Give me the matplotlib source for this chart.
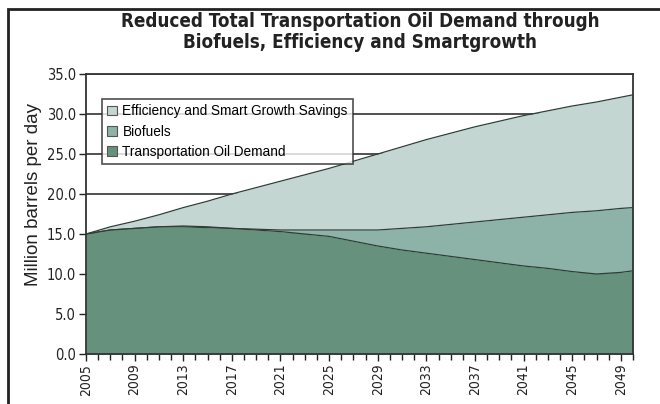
import matplotlib.pyplot as plt
import numpy as np
from matplotlib.patches import Rectangle, Patch

years = [2005, 2007, 2009, 2011, 2013, 2015, 2017, 2019, 2021, 2023, 2025, 2027,
         2029, 2031, 2033, 2035, 2037, 2039, 2041, 2043, 2045, 2047, 2049, 2050]
oil_demand = [15.0, 15.5, 15.7, 15.9, 15.9, 15.8, 15.7, 15.5, 15.3, 15.0, 14.7, 14.1,
              13.5, 13.0, 12.6, 12.2, 11.8, 11.4, 11.0, 10.7, 10.3, 10.0, 10.2, 10.4]
biofuels = [15.0, 15.5, 15.7, 15.9, 16.0, 15.9, 15.7, 15.6, 15.5, 15.5, 15.5, 15.5,
            15.5, 15.7, 15.9, 16.2, 16.5, 16.8, 17.1, 17.4, 17.7, 17.9, 18.2, 18.3]
total = [15.0, 15.9, 16.6, 17.4, 18.3, 19.1, 20.0, 20.8, 21.6, 22.4, 23.2, 24.1,
         25.0, 25.9, 26.8, 27.6, 28.4, 29.1, 29.8, 30.4, 31.0, 31.5, 32.1, 32.4]
labels = ['Efficiency and Smart Growth Savings', 'Biofuels', 'Transportation Oil Demand']
colors = ['#c3d6d2', '#8db3a8', '#66917d']
title = 'Reduced Total Transportation Oil Demand through\nBiofuels, Efficiency and Smartgrowth'

fig = plt.figure(figsize=(6.6, 4.04), dpi=100)
ax = fig.add_axes([86/660, 1-354/404, (633-86)/660, (354-74)/404])

# outer frame
fig.add_artist(Rectangle((8/660, -0.05), 1.2, 1-9/404+0.05, transform=fig.transFigure,
                         fill=False, lw=2, ec='#222222'))

ax.set_axisbelow(True)
ax.yaxis.grid(True, color='#333333', lw=1.2)
ax.fill_between(years, 0, oil_demand, color=colors[2], lw=0, zorder=2)
ax.fill_between(years, oil_demand, biofuels, color=colors[1], lw=0, zorder=2)
ax.fill_between(years, biofuels, total, color=colors[0], lw=0, zorder=2)
ax.plot(years, oil_demand, color='#2f3f38', lw=0.9, zorder=3)
ax.plot(years, biofuels, color='#2f3f38', lw=0.9, zorder=3)
ax.plot(years, total, color='#2f3f38', lw=0.9, zorder=3)

ax.set_xlim(2005, 2050)
ax.set_ylim(0, 35)
ax.set_yticks(np.arange(0, 36, 5))
ax.set_yticklabels(['%.1f' % v for v in np.arange(0, 36, 5)])
ax.set_xticks(range(2005, 2050, 4))
ax.set_xticks(range(2005, 2051), minor=True)
for lbl in ax.get_xticklabels():
    lbl.set_rotation(90)
for lbl in ax.get_xticklabels() + ax.get_yticklabels():
    lbl.set_family('DejaVu Sans')
    lbl.set_stretch('condensed')
    lbl.set_fontsize(10.5)
    lbl.set_color('#222222')
for lbl in ax.get_xticklabels():
    lbl.set_fontsize(10)
ax.tick_params(axis='both', which='major', length=5, width=1, color='#222222', pad=2)
ax.tick_params(axis='x', which='minor', length=4, width=1, color='#222222')
for s in ax.spines.values():
    s.set_color('#333333')
    s.set_linewidth(1.3)

ax.set_ylabel('Million barrels per day', fontsize=13.5, color='#222222',
              family=['Liberation Sans', 'DejaVu Sans'], labelpad=6)
ax.yaxis.set_label_coords(-0.08, 0.568)
fig.text(360/660, 1-32/404, title, ha='center', va='center', fontsize=13.5,
         fontweight='bold', family='DejaVu Sans', stretch='condensed',
         color='#222222', linespacing=1.1)

handles = [Patch(facecolor=c, edgecolor='#555555', lw=0.8) for c in colors]
leg = ax.legend(handles, labels, loc='upper left', bbox_to_anchor=(16/547, 1-25/280),
                borderaxespad=0, frameon=True, fancybox=False, handlelength=0.7,
                handleheight=0.7, handletextpad=0.4, labelspacing=0.45,
                borderpad=0.4, prop={'family': ['Liberation Sans', 'DejaVu Sans'], 'size': 9.8})
leg.get_frame().set_edgecolor('#222222')
leg.get_frame().set_linewidth(1.2)
leg.set_zorder(5)

fig.savefig('out.png', dpi=100)
